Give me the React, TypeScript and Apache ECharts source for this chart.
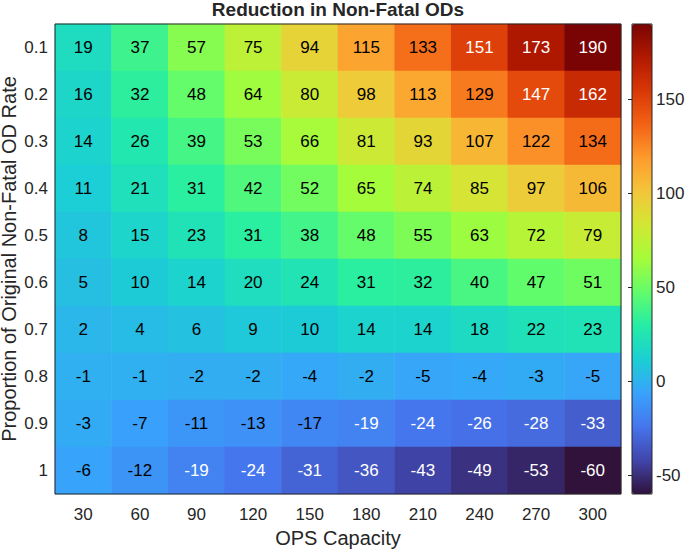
import React, { useEffect, useRef } from "react";
import * as echarts from "echarts";

const xCategories = ["30", "60", "90", "120", "150", "180", "210", "240", "270", "300"];
const yCategories = ["0.1", "0.2", "0.3", "0.4", "0.5", "0.6", "0.7", "0.8", "0.9", "1"];

const row01 = [19, 37, 57, 75, 94, 115, 133, 151, 173, 190];
const row02 = [16, 32, 48, 64, 80, 98, 113, 129, 147, 162];
const row03 = [14, 26, 39, 53, 66, 81, 93, 107, 122, 134];
const row04 = [11, 21, 31, 42, 52, 65, 74, 85, 97, 106];
const row05 = [8, 15, 23, 31, 38, 48, 55, 63, 72, 79];
const row06 = [5, 10, 14, 20, 24, 31, 32, 40, 47, 51];
const row07 = [2, 4, 6, 9, 10, 14, 14, 18, 22, 23];
const row08 = [-1, -1, -2, -2, -4, -2, -5, -4, -3, -5];
const row09 = [-3, -7, -11, -13, -17, -19, -24, -26, -28, -33];
const row10 = [-6, -12, -19, -24, -31, -36, -43, -49, -53, -60];
const rows = [row01, row02, row03, row04, row05, row06, row07, row08, row09, row10];

const colorbarMin = -60;
const colorbarMax = 190;
const colorbarTicks = [-50, 0, 50, 100, 150];

const turbo = [
  "#30123b", "#4145ab", "#4675ed", "#39a2fc", "#1bcfd4", "#24eca6", "#61fc6c", "#a4fc3b",
  "#d1e834", "#f3c63a", "#fe9b2d", "#f36315", "#d93806", "#b11901", "#7a0403",
];

const FONT = "'Liberation Sans', Arial, Helvetica, sans-serif";
const INK = "#262626";

export default function App() {
  const ref = useRef<HTMLDivElement>(null);
  useEffect(() => {
    if (!ref.current) return;
    const chart = echarts.init(ref.current, undefined, { renderer: "svg" });
    const data: any[] = [];
    rows.forEach((row, yi) => {
      row.forEach((v, xi) => {
        const light = v >= 140 || v <= -18;
        data.push({ value: [xi, yi, v], label: { color: light ? "#ffffff" : "#000000" } });
      });
    });
    chart.setOption({
      animation: false,
      textStyle: { fontFamily: FONT },
      title: {
        text: "Reduction in Non-Fatal ODs",
        left: 338,
        textAlign: "center",
        top: 0,
        padding: 0,
        textStyle: { fontSize: 19, fontWeight: "bold", color: INK, fontFamily: FONT },
      },
      grid: [
        { left: 55, top: 24, width: 566, height: 470, show: true, borderColor: INK, borderWidth: 1, backgroundColor: "transparent", z: 10, outerBoundsMode: "none", containLabel: false },
        { left: 632, top: 24, width: 20, height: 470, show: true, borderColor: INK, borderWidth: 1, backgroundColor: "transparent", z: 10, outerBoundsMode: "none", containLabel: false },
      ],
      xAxis: [
        {
          type: "category",
          data: xCategories,
          gridIndex: 0,
          axisLine: { show: false },
          axisTick: { show: false },
          splitLine: { show: false },
          axisLabel: { color: INK, fontSize: 17, margin: 12, fontFamily: FONT },
          name: "OPS Capacity",
          nameLocation: "middle",
          nameGap: 34,
          nameMoveOverlap: false,
          nameTextStyle: { color: INK, fontSize: 20, fontFamily: FONT },
        },
        { type: "value", gridIndex: 1, show: false, min: 0, max: 1 },
      ],
      yAxis: [
        {
          type: "category",
          data: yCategories,
          inverse: true,
          gridIndex: 0,
          axisLine: { show: false },
          axisTick: { show: false },
          splitLine: { show: false },
          axisLabel: { color: INK, fontSize: 17, margin: 7, fontFamily: FONT },
          name: "Proportion of Original Non-Fatal OD Rate",
          nameLocation: "middle",
          nameGap: 36,
          nameMoveOverlap: false,
          nameTextStyle: { color: INK, fontSize: 20, fontFamily: FONT },
        },
        {
          type: "value",
          gridIndex: 1,
          position: "right",
          min: colorbarMin,
          max: colorbarMax,
          z: 12,
          splitLine: { show: false },
          axisLine: { show: false },
          axisTick: { show: true, inside: true, length: 4, lineStyle: { color: INK }, customValues: colorbarTicks },
          axisLabel: { color: INK, fontSize: 17, margin: 4, fontFamily: FONT, customValues: colorbarTicks },
        },
      ],
      visualMap: {
        type: "continuous",
        min: colorbarMin,
        max: colorbarMax,
        seriesIndex: 0,
        dimension: 2,
        calculable: false,
        left: 632,
        top: 24,
        padding: 0,
        itemWidth: 20,
        itemHeight: 470,
        inRange: { color: turbo },
        z: 4,
      },
      series: [
        {
          type: "heatmap",
          xAxisIndex: 0,
          yAxisIndex: 0,
          data,
          label: { show: true, fontSize: 17, fontFamily: FONT },
          itemStyle: { borderWidth: 0 },
          emphasis: { disabled: true },
        },
      ],
    });
    return () => chart.dispose();
  }, []);
  return <div ref={ref} style={{ position: "absolute", left: 0, top: 0, width: 685, height: 551 }} />;
}
